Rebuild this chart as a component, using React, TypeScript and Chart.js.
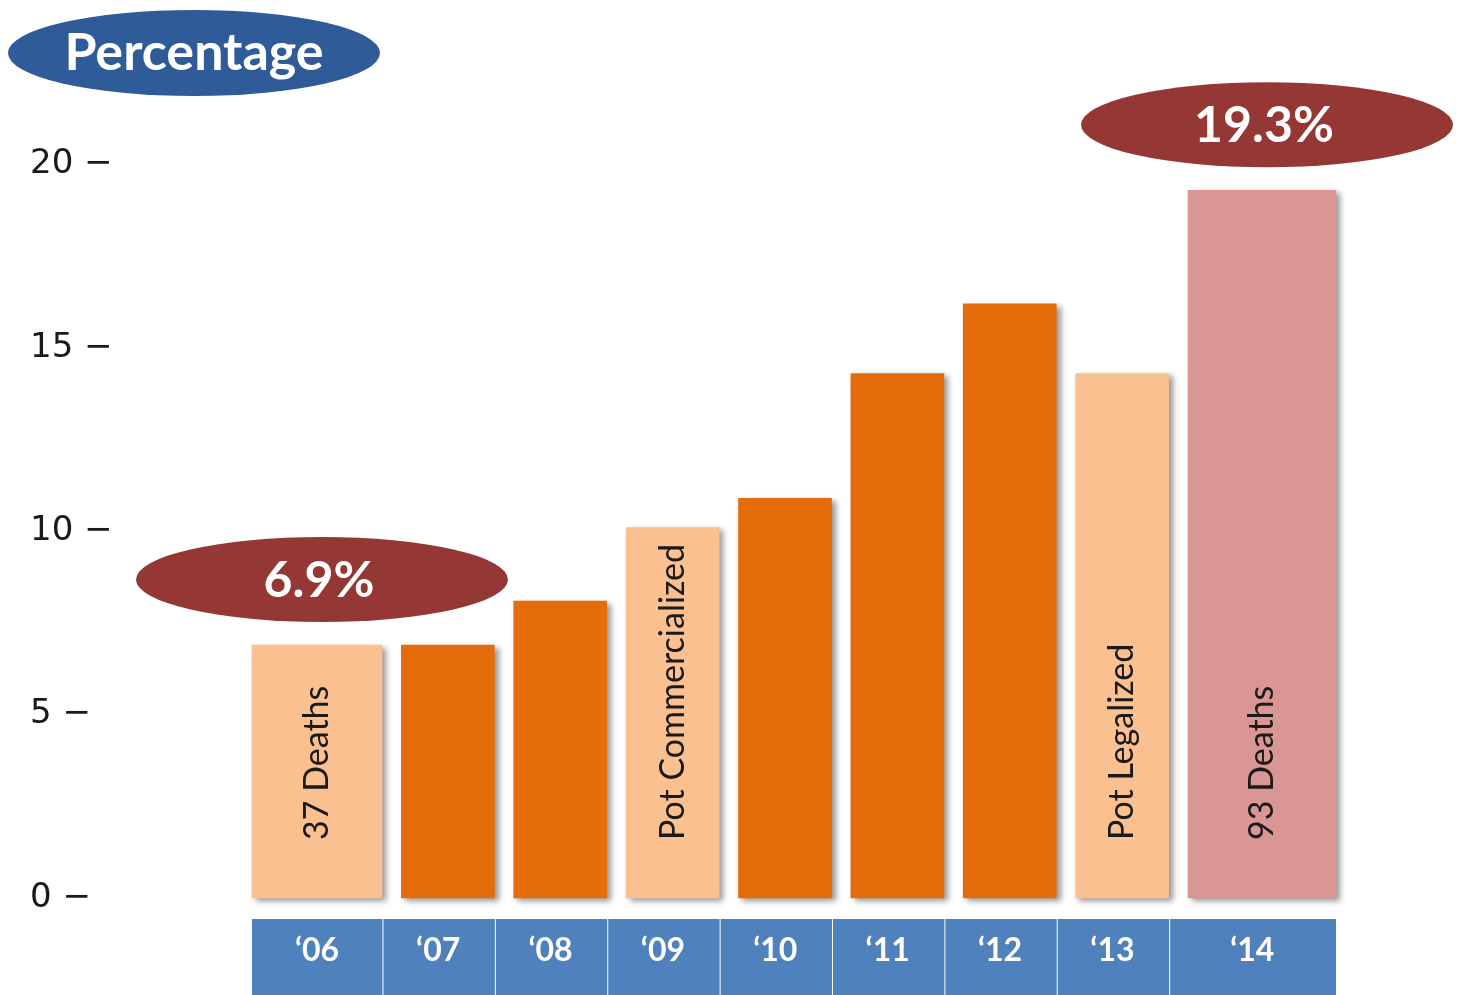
import React, { useEffect, useRef } from "react";
import { Chart, registerables } from "chart.js";

Chart.register(...registerables);

// ---------- data ----------
const years = ["\u201806", "\u201807", "\u201808", "\u201809", "\u201810", "\u201811", "\u201812", "\u201813", "\u201814"];
const percentages = [6.9, 6.9, 8.1, 10.1, 10.9, 14.3, 16.2, 14.3, 19.3];
const barKinds = ["light", "dark", "dark", "light", "dark", "dark", "dark", "light", "pink"];
const barNotes = ["37 Deaths", "", "", "Pot Commercialized", "", "", "", "Pot Legalized", "93 Deaths"];
const calloutBars = [0, 8];
const yTickValues = [0, 5, 10, 15, 20];
const axisTitle = "Percentage";

// ---------- style / layout ----------
const KIND_COLORS: Record<string, string> = { light: "#FAC090", dark: "#E46C0A", pink: "#D99694" };
const BAR_WIDTHS = [130, 93, 93, 93, 93, 93, 93, 93, 148];
const BAR_GAP = 19.4;
const FONT = "Lato";

const barLefts: number[] = [];
(() => {
  let acc = 0;
  BAR_WIDTHS.forEach((w) => {
    barLefts.push(acc);
    acc += w + BAR_GAP;
  });
})();
const barCenters = BAR_WIDTHS.map((w, i) => barLefts[i] + w / 2);
const barRights = BAR_WIDTHS.map((w, i) => barLefts[i] + w);
const X_MAX = barRights[barRights.length - 1];
const boxLefts = barLefts.map((l, i) => (i === 0 ? l : barRights[i - 1]));
const boxCenters = barRights.map((r, i) => (boxLefts[i] + r) / 2);

const decorPlugin = {
  id: "decor",
  beforeDraw(chart: any) {
    const { ctx } = chart;
    const x = chart.scales.x;
    const y = chart.scales.y;
    const base = y.getPixelForValue(0);
    ctx.save();
    ctx.fillStyle = "#4F81BD";
    const last = years.length - 1;
    years.forEach((_, i) => {
      const l = x.getPixelForValue(boxLefts[i]) + (i === 0 ? 0 : 1.5);
      const r = x.getPixelForValue(barRights[i]) + (i === last ? 0 : 0.5);
      ctx.fillRect(l, base + 21, r - l, 200);
    });
    ctx.restore();
  },
  beforeDatasetDraw(chart: any) {
    const { ctx } = chart;
    ctx.save();
    ctx.shadowColor = "rgba(0,0,0,0.42)";
    ctx.shadowBlur = 6;
    ctx.shadowOffsetX = 4;
    ctx.shadowOffsetY = 3;
  },
  afterDatasetDraw(chart: any) {
    chart.ctx.restore();
  },
  afterDatasetsDraw(chart: any) {
    const { ctx } = chart;
    const y = chart.scales.y;
    const base = y.getPixelForValue(0);
    barNotes.forEach((note, i) => {
      if (!note) return;
      const el = chart.getDatasetMeta(i).data[0];
      ctx.save();
      ctx.translate(el.x, base - 58);
      ctx.rotate(-Math.PI / 2);
      ctx.font = `34px ${FONT}`;
      ctx.fillStyle = "#1a1a1a";
      ctx.textAlign = "left";
      ctx.textBaseline = "middle";
      ctx.fillText(note, 0, 0);
      ctx.restore();
    });
    calloutBars.forEach((i) => {
      const el = chart.getDatasetMeta(i).data[0];
      const cx = el.x + 5;
      const cy = el.y - 65.5;
      ctx.save();
      ctx.beginPath();
      ctx.ellipse(cx, cy, 186, 42.5, 0, 0, Math.PI * 2);
      ctx.fillStyle = "#953735";
      ctx.fill();
      ctx.font = `bold 50px ${FONT}`;
      ctx.fillStyle = "#ffffff";
      ctx.textAlign = "center";
      ctx.textBaseline = "middle";
      ctx.fillText(percentages[i].toFixed(1) + "%", el.x + 2, cy + 1);
      ctx.restore();
    });
  },
  afterDraw(chart: any) {
    const { ctx } = chart;
    ctx.save();
    ctx.beginPath();
    ctx.ellipse(194, 53, 186, 43, 0, 0, Math.PI * 2);
    ctx.fillStyle = "#2F5C98";
    ctx.fill();
    ctx.font = `bold 52px ${FONT}`;
    ctx.fillStyle = "#ffffff";
    ctx.textAlign = "center";
    ctx.textBaseline = "middle";
    ctx.fillText(axisTitle, 194, 53);
    ctx.restore();
  },
};

export default function App() {
  const ref = useRef<HTMLCanvasElement>(null);

  useEffect(() => {
    const canvas = ref.current;
    if (!canvas) return;
    const datasets = percentages.map((v, i) => ({
      label: years[i],
      data: [{ x: barCenters[i], y: v }],
      backgroundColor: KIND_COLORS[barKinds[i]],
      barThickness: BAR_WIDTHS[i],
      grouped: false,
      clip: false as any,
      borderWidth: 0,
    }));
    const chart = new Chart(canvas, {
      type: "bar",
      data: { datasets } as any,
      options: {
        animation: false,
        responsive: false,
        layout: { padding: { left: 30, right: 123, top: 164.6, bottom: 0 } },
        plugins: { legend: { display: false }, tooltip: { enabled: false } },
        scales: {
          x: {
            type: "linear",
            min: 0,
            max: X_MAX,
            offset: false,
            grid: { display: false, drawTicks: false },
            border: { display: false },
            afterBuildTicks: (s: any) => {
              s.ticks = boxCenters.map((v) => ({ value: v }));
            },
            afterFit: (s: any) => {
              s.height = 97;
            },
            ticks: {
              autoSkip: false,
              maxRotation: 0,
              minRotation: 0,
              padding: 33,
              color: "#ffffff",
              font: { family: FONT, weight: "bold", size: 32 },
              callback: (_v: any, i: number) => years[i],
            },
          },
          y: {
            type: "linear",
            min: 0,
            max: 20,
            grid: { display: false, drawTicks: false },
            border: { display: false },
            afterBuildTicks: (s: any) => {
              s.ticks = yTickValues.map((v) => ({ value: v }));
            },
            afterFit: (s: any) => {
              s.width = 222;
            },
            ticks: {
              crossAlign: "far",
              padding: 0,
              color: "#1a1a1a",
              font: { family: "DejaVu Sans", size: 34 },
              callback: (v: any) => `${v} \u2212`,
            },
          },
        },
      } as any,
      plugins: [decorPlugin],
    });
    return () => chart.destroy();
  }, []);

  return (
    <div style={{ position: "fixed", left: 0, top: 0, width: 1459, height: 995, background: "#ffffff" }}>
      <canvas ref={ref} width={1459} height={995} style={{ display: "block" }} />
    </div>
  );
}
